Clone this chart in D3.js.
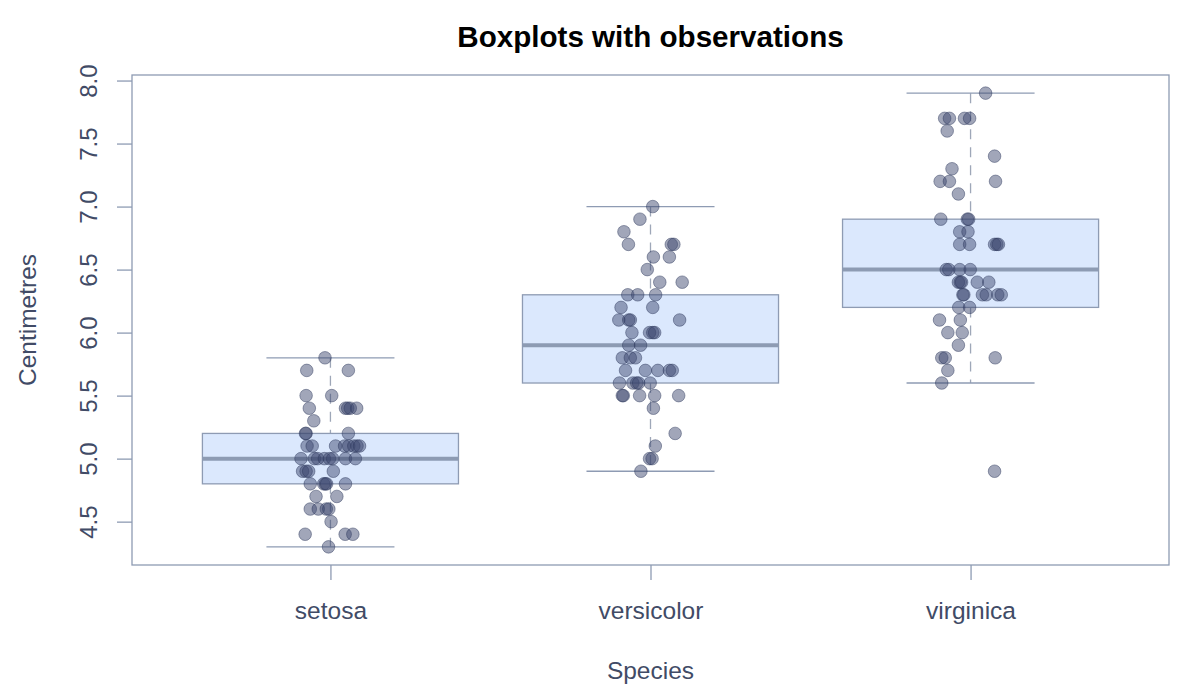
<!DOCTYPE html>
<html>
<head>
<meta charset="utf-8">
<script src="https://cdn.jsdelivr.net/npm/d3@7"></script>
<style>
  body { margin: 0; background: #ffffff; }
  text { font-family: "Liberation Sans", Arial, Helvetica, sans-serif; }
</style>
</head>
<body>
<div id="caja"></div>
<script>
// species on the x axis
var species = ["setosa", "versicolor", "virginica"];

// sepal length observations per species (cm)
var setosaVals = [5.8, 5.7, 5.7, 5.5, 5.5, 5.4, 5.4, 5.4, 5.4, 5.4, 5.3, 5.2, 5.2, 5.2,
  5.1, 5.1, 5.1, 5.1, 5.1, 5.1, 5.1, 5.1, 5.0, 5.0, 5.0, 5.0, 5.0, 5.0, 5.0, 5.0,
  4.9, 4.9, 4.9, 4.9, 4.8, 4.8, 4.8, 4.8, 4.8, 4.7, 4.7, 4.6, 4.6, 4.6, 4.6, 4.5,
  4.4, 4.4, 4.4, 4.3];
var versicolorVals = [7.0, 6.9, 6.8, 6.7, 6.7, 6.7, 6.6, 6.6, 6.5, 6.4, 6.4, 6.3, 6.3, 6.3,
  6.2, 6.2, 6.1, 6.1, 6.1, 6.1, 6.0, 6.0, 6.0, 6.0, 5.9, 5.9, 5.8, 5.8, 5.8,
  5.7, 5.7, 5.7, 5.7, 5.7, 5.6, 5.6, 5.6, 5.6, 5.6, 5.5, 5.5, 5.5, 5.5, 5.5,
  5.4, 5.2, 5.1, 5.0, 5.0, 4.9];
var virginicaVals = [7.9, 7.7, 7.7, 7.7, 7.7, 7.6, 7.4, 7.3, 7.2, 7.2, 7.2, 7.1, 6.9, 6.9, 6.9,
  6.8, 6.8, 6.7, 6.7, 6.7, 6.7, 6.7, 6.5, 6.5, 6.5, 6.5, 6.4, 6.4, 6.4, 6.4, 6.4,
  6.3, 6.3, 6.3, 6.3, 6.3, 6.3, 6.2, 6.2, 6.1, 6.1, 6.0, 6.0, 5.9, 5.8, 5.8, 5.8,
  5.7, 5.6, 4.9];

// horizontal jitter of each point, in category units
var setosaJit = [-0.017, -0.074, 0.056, -0.076, 0.004, -0.066, 0.047, 0.054, 0.062, 0.082, -0.052,
  -0.076, -0.078, 0.056,
  -0.073, -0.057, 0.016, 0.044, 0.057, 0.073, 0.083, 0.091,
  -0.092, -0.05, -0.04, -0.019, -0.003, 0.007, 0.047, 0.078,
  -0.087, -0.076, -0.068, 0.009, -0.063, -0.021, -0.016, -0.012, 0.047, -0.045, 0.02,
  -0.063, -0.038, -0.013, -0.005, 0.002, -0.079, 0.046, 0.07, -0.006];
var versicolorJit = [0.007, -0.033, -0.083, -0.069, 0.065, 0.073, 0.009, 0.059, -0.01, 0.029, 0.099,
  -0.071, -0.04, 0.016, -0.092, 0.007, -0.099, -0.068, -0.063, 0.091,
  -0.058, -0.003, 0.007, 0.013, -0.068, -0.031, -0.088, -0.063, -0.047,
  -0.078, -0.016, 0.023, 0.059, 0.068, -0.097, -0.055, -0.043, -0.037, -0.001,
  -0.088, -0.085, -0.034, 0.013, 0.088, 0.009, 0.077, 0.015, -0.003, 0.005, -0.03];
var virginicaJit = [0.047, -0.081, -0.066, -0.019, -0.003, -0.073, 0.075, -0.058, -0.095, -0.066, 0.078,
  -0.038, -0.093, -0.01, -0.006, -0.034, -0.008, -0.034, -0.003, 0.075, 0.082, 0.087,
  -0.076, -0.068, -0.034, -0.001, -0.038, -0.032, -0.028, 0.021, 0.057,
  -0.024, -0.021, 0.037, 0.049, 0.085, 0.096, -0.037, -0.003, -0.097, -0.032,
  -0.071, -0.026, -0.038, -0.09, -0.079, 0.077, -0.071, -0.09, 0.075];

var yTicks = [4.5, 5.0, 5.5, 6.0, 6.5, 7.0, 7.5, 8.0];

var seriesVals = [setosaVals, versicolorVals, virginicaVals];
var seriesJit = [setosaJit, versicolorJit, virginicaJit];

var w = 1200, h = 700;
var mLeft = 132, mRight = 1169, mTop = 75, mBottom = 565;
var axisCol = "#8e9bb3", textCol = "#414b66";

var svg = d3.select("#caja").append("svg")
  .attr("width", w)
  .attr("height", h);

var x = d3.scaleLinear().domain([0.38, 3.62]).range([mLeft, mRight]);
var y = d3.scaleLinear().domain([4.156, 8.044]).range([mBottom, mTop]);

// five number summary the way R's boxplot does it (Tukey hinges)
function fivenum(vals) {
  var s = vals.slice().sort(d3.ascending);
  var n = s.length;
  var n4 = Math.floor((n + 3) / 2) / 2;
  var d = [1, n4, (n + 1) / 2, n + 1 - n4, n];
  var q = d.map(function(k) { return 0.5 * (s[Math.floor(k) - 1] + s[Math.ceil(k) - 1]); });
  var iqr = q[3] - q[1];
  var lo = d3.min(s.filter(function(v) { return v >= q[1] - 1.5 * iqr; }));
  var hi = d3.max(s.filter(function(v) { return v <= q[3] + 1.5 * iqr; }));
  return { q1: q[1], med: q[2], q3: q[3], lo: lo, hi: hi };
}

var stats = seriesVals.map(fivenum);
var boxW = 0.8, capW = 0.4;

var boxes = svg.append("g").selectAll("g")
  .data(stats)
  .enter().append("g");

// dashed whiskers
boxes.append("line")
  .attr("x1", function(d, i) { return x(i + 1); })
  .attr("x2", function(d, i) { return x(i + 1); })
  .attr("y1", function(d) { return y(d.hi); })
  .attr("y2", function(d) { return y(d.q3); })
  .attr("stroke", "#9ea7b8").attr("stroke-width", 1.3)
  .attr("stroke-dasharray", "10,8");
boxes.append("line")
  .attr("x1", function(d, i) { return x(i + 1); })
  .attr("x2", function(d, i) { return x(i + 1); })
  .attr("y1", function(d) { return y(d.q1); })
  .attr("y2", function(d) { return y(d.lo); })
  .attr("stroke", "#9ea7b8").attr("stroke-width", 1.3)
  .attr("stroke-dasharray", "10,8");

// caps
["hi", "lo"].forEach(function(k) {
  boxes.append("line")
    .attr("x1", function(d, i) { return x(i + 1 - capW / 2); })
    .attr("x2", function(d, i) { return x(i + 1 + capW / 2); })
    .attr("y1", function(d) { return y(d[k]); })
    .attr("y2", function(d) { return y(d[k]); })
    .attr("stroke", axisCol).attr("stroke-width", 1.3);
});

boxes.append("rect")
  .attr("x", function(d, i) { return x(i + 1 - boxW / 2); })
  .attr("width", function(d, i) { return x(i + 1 + boxW / 2) - x(i + 1 - boxW / 2); })
  .attr("y", function(d) { return y(d.q3); })
  .attr("height", function(d) { return y(d.q1) - y(d.q3); })
  .attr("fill", "#dbe8fd")
  .attr("stroke", axisCol).attr("stroke-width", 1.3);

boxes.append("line")
  .attr("x1", function(d, i) { return x(i + 1 - boxW / 2); })
  .attr("x2", function(d, i) { return x(i + 1 + boxW / 2); })
  .attr("y1", function(d) { return y(d.med); })
  .attr("y2", function(d) { return y(d.med); })
  .attr("stroke", "#8d9bb3").attr("stroke-width", 4);

// observations
var puntos = [];
seriesVals.forEach(function(vals, i) {
  vals.forEach(function(v, j) {
    puntos.push({ pos: i + 1 + seriesJit[i][j], val: v });
  });
});

svg.append("g").selectAll("circle")
  .data(puntos)
  .enter().append("circle")
  .attr("cx", function(d) { return x(d.pos); })
  .attr("cy", function(d) { return y(d.val); })
  .attr("r", 6.3)
  .attr("fill", "rgba(58,70,108,0.48)")
  .attr("stroke", "rgba(45,56,92,0.45)")
  .attr("stroke-width", 1);

// frame
svg.append("rect")
  .attr("x", mLeft).attr("y", mTop)
  .attr("width", mRight - mLeft).attr("height", mBottom - mTop)
  .attr("fill", "none").attr("stroke", axisCol).attr("stroke-width", 1.3);

// y axis
var yAxis = svg.append("g")
  .attr("transform", "translate(" + mLeft + ",0)")
  .call(d3.axisLeft(y).tickValues(yTicks).tickSize(15).tickFormat(d3.format(".1f")));
yAxis.select(".domain").remove();
yAxis.selectAll(".tick line").attr("stroke", axisCol).attr("stroke-width", 1.3);
yAxis.selectAll(".tick text")
  .attr("transform", "rotate(-90)")
  .attr("x", 0).attr("y", -35).attr("dy", 0)
  .attr("text-anchor", "middle")
  .style("font-size", "24px").attr("fill", textCol);

// x axis
var xAxis = svg.append("g")
  .attr("transform", "translate(0," + mBottom + ")")
  .call(d3.axisBottom(x).tickValues([1, 2, 3]).tickSize(15)
    .tickFormat(function(d) { return species[d - 1]; }));
xAxis.select(".domain").remove();
xAxis.selectAll(".tick line").attr("stroke", axisCol).attr("stroke-width", 1.3);
xAxis.selectAll(".tick text")
  .attr("y", 54).attr("dy", 0)
  .style("font-size", "24.5px").attr("fill", textCol);

// titles
svg.append("text")
  .attr("x", (mLeft + mRight) / 2).attr("y", 47)
  .attr("text-anchor", "middle")
  .style("font-size", "29.6px").style("font-weight", "bold")
  .attr("fill", "#000000")
  .text("Boxplots with observations");

svg.append("text")
  .attr("x", (mLeft + mRight) / 2).attr("y", 679)
  .attr("text-anchor", "middle")
  .style("font-size", "24.5px").attr("fill", textCol)
  .text("Species");

svg.append("text")
  .attr("transform", "translate(36,320) rotate(-90)")
  .attr("text-anchor", "middle")
  .style("font-size", "24.5px").attr("fill", textCol)
  .text("Centimetres");
</script>
</body>
</html>
